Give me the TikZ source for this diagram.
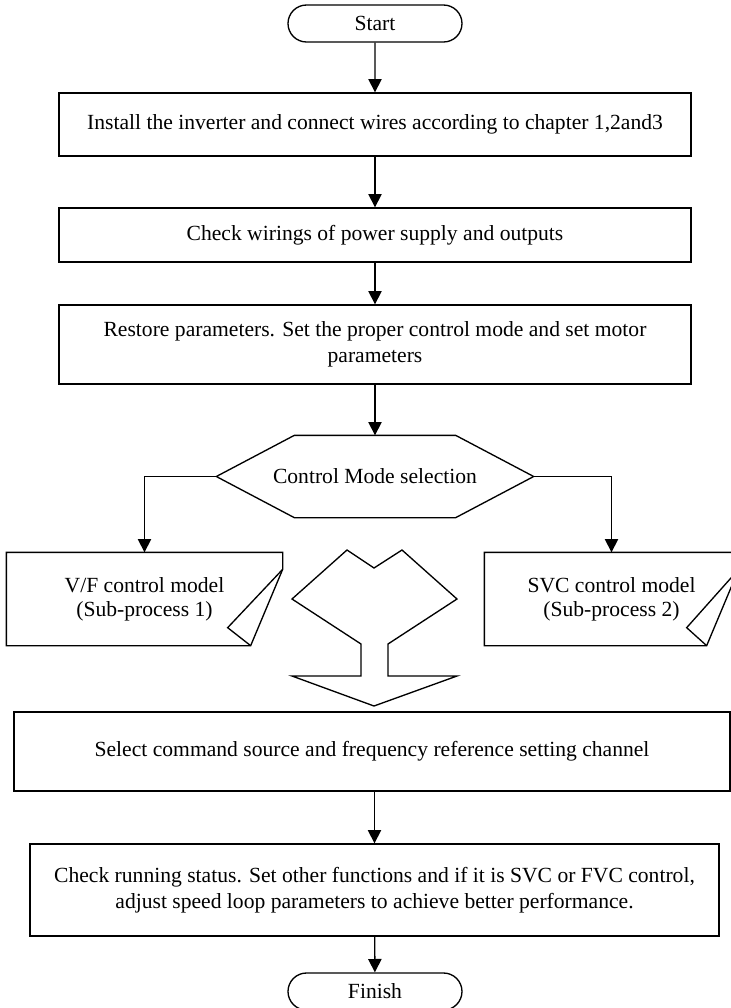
\documentclass[tikz,border=0pt]{standalone}
\usepackage{fontspec}
\setmainfont{Liberation Serif}
\usetikzlibrary{arrows.meta,calc,shapes.misc}
\begin{document}
\begin{tikzpicture}[x=0.75pt,y=-0.75pt,
  line width=1pt,
  txt/.style={font=\fontsize{16.2}{19.5}\selectfont, align=center, inner sep=0pt},
  box/.style={txt, draw, rectangle},
  term/.style={txt, draw, rounded rectangle, minimum width=130.5pt, minimum height=27.75pt},
  plain/.style={txt, rectangle, font=\fontsize{16.2}{18}\selectfont},
  arr/.style={-{Triangle[length=10pt,width=10pt]}}]
\clip (0,0) rectangle (731,1008);

\node[term] (start) at (375,23.5) {Start};
\node[box, minimum width=474pt, minimum height=47.25pt] (b1) at (375,124.5)
  {Install the inverter and connect wires according to chapter 1,2and3};
\node[box, minimum width=474pt, minimum height=40.5pt] (b2) at (375,235)
  {Check wirings of power supply and outputs};
\node[box, minimum width=474pt, minimum height=59.25pt] (b3) at (375,344.5)
  {Restore parameters. Set the proper control mode and set motor\\parameters};

\node[txt, minimum width=237pt, minimum height=60.75pt] (ctrl) at (375,476.5) {Control Mode selection};
\draw (ctrl.west) -- ($(ctrl.north west)+(78,0)$) -- ($(ctrl.north east)+(-78,0)$) -- (ctrl.east)
  -- ($(ctrl.south east)+(-78,0)$) -- ($(ctrl.south west)+(78,0)$) -- cycle;

\node[plain, minimum width=206.25pt, minimum height=69pt] (vf) at (144.5,599)
  {V/F control model\\(Sub-process 1)};
\draw (vf.north west) -- (vf.north east) -- ($(vf.north east)+(0,17)$) coordinate (vfa)
  -- ($(vf.south east)+(-32,0)$) coordinate (vfb) -- (vf.south west) -- cycle;
\draw (vfa) -- ($(vf.south east)+(-55,-18)$) -- (vfb);

\node[plain, minimum width=189.75pt, minimum height=69pt] (svc) at (611.5,599)
  {SVC control model\\(Sub-process 2)};
\draw (svc.north west) -- (svc.north east) -- ($(svc.north east)+(0,17)$) coordinate (sva)
  -- ($(svc.south east)+(-32,0)$) coordinate (svb) -- (svc.south west) -- cycle;
\draw (sva) -- ($(svc.south east)+(-52,-18)$) -- (svb);

% merge arrow
\draw (347,550) -- (374,568) -- (402,550) -- (457,599) -- (388,644) -- (388,676) -- (457,676)
  -- (374,706) -- (292,676) -- (361,676) -- (361,644) -- (292,599) -- cycle;

\node[box, minimum width=537pt, minimum height=59.25pt] (sel) at (372,751.5)
  {Select command source and frequency reference setting channel};
\node[box, minimum width=516.75pt, minimum height=69pt] (chk) at (374.5,890)
  {Check running status. Set other functions and if it is SVC or FVC control,\\adjust speed loop parameters to achieve better performance.};
\node[term] (fin) at (375,991.5) {Finish};

\draw[arr] (start) -- (b1);
\draw[arr] (b1) -- (b2);
\draw[arr] (b2) -- (b3);
\draw[arr] (b3) -- (ctrl);
\draw[arr] (ctrl.west) -| (vf.north);
\draw[arr] (ctrl.east) -| (svc.north);
\draw[arr] (sel.south -| chk.north) -- (chk.north);
\draw[arr] (chk) -- (fin);
\end{tikzpicture}
\end{document}
